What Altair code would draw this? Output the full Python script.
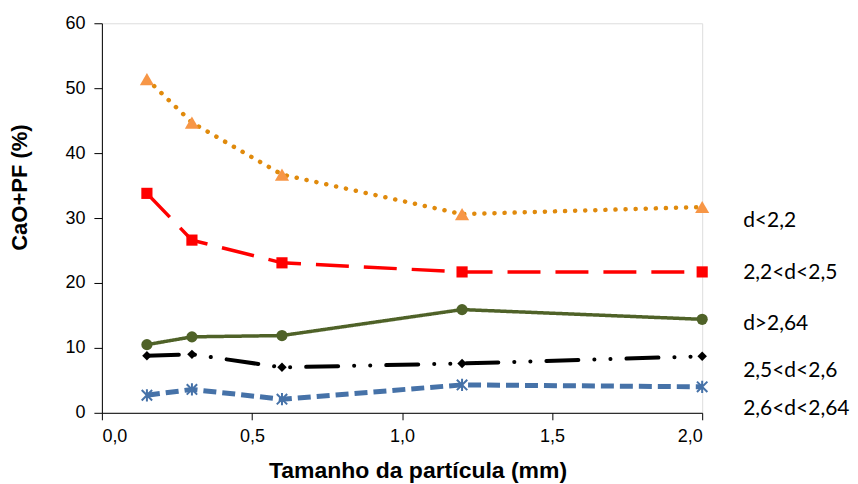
import altair as alt
import pandas as pd

x_vals = [0.15, 0.3, 0.6, 1.2, 2.0]
series_names = ["d<2,2", "2,2<d<2,5", "d>2,64", "2,5<d<2,6", "2,6<d<2,64"]
s_d22 = [51.4, 44.7, 36.7, 30.6, 31.7]
s_22_25 = [33.8, 26.6, 23.1, 21.7, 21.7]
s_264 = [10.5, 11.7, 11.9, 15.9, 14.4]
s_25_26 = [8.8, 9.0, 7.0, 7.6, 8.7]
s_26_264 = [2.7, 3.6, 2.1, 4.3, 4.0]
label_y = [29.6, 21.6, 13.7, 6.5, 0.6]

values = [s_d22, s_22_25, s_264, s_25_26, s_26_264]

styles = [
    dict(line="#E08A0C", dash=[0.1, 10], width=4.5, cap="round", pt="#F79646", shape="triangle-up", size=200, filled=True),
    dict(line="#FF0000", dash=[33, 15], width=3.5, cap="butt", pt="#FF0000", shape="square", size=125, filled=True),
    dict(line="#4F6228", dash=[1, 0], width=3.5, cap="butt", pt="#4F6228", shape="circle", size=125, filled=True),
    dict(line="#000000", dash=[32, 16, 0.1, 16, 0.1, 16], width=4, cap="round", pt="#000000", shape="diamond", size=90, filled=True),
    dict(line="#4672A8", dash=[13, 6], width=5, cap="butt", pt="#4672A8",
         shape="M0,-1L0,1M-0.85,-0.85L0.85,0.85M-0.85,0.85L0.85,-0.85", size=150, filled=False),
]

xscale = alt.Scale(domain=[0, 2.0], nice=False, zero=False)
yscale = alt.Scale(domain=[0, 60], nice=False)

xaxis = alt.Axis(values=[0, 0.5, 1.0, 1.5, 2.0], grid=False,
                 labelExpr="replace(format(datum.value, '.1f'), '.', ',')",
                 title="Tamanho da partícula (mm)", titleFontSize=23, titleFontWeight="bold",
                 labelFontSize=18, labelColor="#000", titleColor="#000", domainColor="#000",
                 tickColor="#000", tickSize=7, labelPadding=8, titlePadding=14,
                 titleX=316, titleAlign="center",
                 labelFont="Liberation Sans", titleFont="Liberation Sans")
yaxis = alt.Axis(values=[0, 10, 20, 30, 40, 50, 60], grid=False,
                 title="CaO+PF (%)", titleFontSize=22, titleFontWeight="bold",
                 labelFontSize=18, labelColor="#000", titleColor="#000", domainColor="#000",
                 tickColor="#000", tickSize=8, labelPadding=9, titlePadding=33,
                 titleY=164, titleAlign="center",
                 labelFont="Liberation Sans", titleFont="Liberation Sans")

enc_x = alt.X("x:Q", scale=xscale, axis=xaxis)
enc_y = alt.Y("y:Q", scale=yscale, axis=yaxis)

layers = []
for name, vals, st in zip(series_names, values, styles):
    df = pd.DataFrame({"x": x_vals, "y": vals, "serie": name})
    base = alt.Chart(df)
    line = base.mark_line(color=st["line"], strokeWidth=st["width"], strokeDash=st["dash"],
                          strokeCap=st["cap"]).encode(x=enc_x, y=enc_y)
    if st["filled"]:
        pts = base.mark_point(shape=st["shape"], size=st["size"], filled=True, color=st["pt"], opacity=1).encode(x=enc_x, y=enc_y)
    else:
        pts = base.mark_point(shape=st["shape"], size=st["size"], filled=False, color=st["pt"], strokeWidth=2, opacity=1).encode(x=enc_x, y=enc_y)
    layers += [line, pts]

lab_df = pd.DataFrame({"x": [x_vals[-1]] * len(series_names), "y": label_y, "label": series_names})
labels = alt.Chart(lab_df).mark_text(align="left", baseline="middle", dx=41, fontSize=21,
                                      font="Lato", color="#000").encode(
    x=enc_x, y=enc_y, text="label:N")
layers.append(labels)

chart = alt.layer(*layers).properties(
    width=601, height=390, padding={"left": 0, "top": 6, "right": 0, "bottom": 0}
).configure_view(stroke=None).configure(background="white")

chart.save("out.html", embed_options={"renderer": "svg", "actions": False})
